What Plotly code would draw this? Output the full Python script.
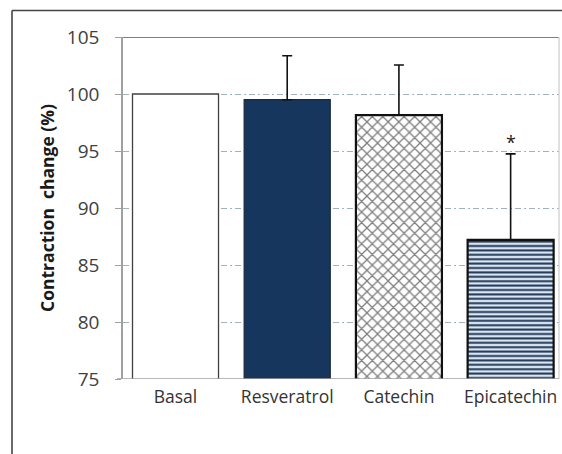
import plotly.graph_objects as go

categories = ["Basal", "Resveratrol", "Catechin", "Epicatechin"]
values = [100, 99.5, 98.15, 87.2]
errors_up = [0, 3.85, 4.4, 7.55]
y_ticks = [75, 80, 85, 90, 95, 100, 105]
significance = ["", "", "", "*"]

W, H = 562, 454
L, R, T, B = 123, 3, 37, 75
PW = W - L - R
PH = H - T - B

styles = [
    dict(color="#ffffff", line=dict(color="#404040", width=1.3)),
    dict(color="#17365d", line=dict(color="#1a2a40", width=1.3)),
    dict(color="#ffffff", line=dict(color="#111111", width=2.2),
         pattern=dict(shape="x", fgcolor="#7c7c7c", bgcolor="#ffffff", fgopacity=1,
                      size=7.5, solidity=0.3, fillmode="overlay")),
    dict(color="#dbe6f2", line=dict(color="#111111", width=2.2),
         pattern=dict(shape="-", fgcolor="#1f3656", bgcolor="#dbe6f2", fgopacity=1,
                      size=4.4, solidity=0.45, fillmode="overlay")),
]

fig = go.Figure()
for c, v, e, st in zip(categories, values, errors_up, styles):
    fig.add_trace(go.Bar(
        x=[c], y=[v], base=0, width=0.77,
        marker=st,
        error_y=dict(type="data", symmetric=False, array=[e], arrayminus=[0],
                     color="#111111", thickness=1.6, width=5, visible=e > 0),
        showlegend=False, hoverinfo="skip",
    ))

for c, v, e, s in zip(categories, values, errors_up, significance):
    if s:
        fig.add_annotation(x=c, y=v + e, text=s, showarrow=False,
                           yanchor="bottom", yshift=-2,
                           font=dict(family="Open Sans", size=18, color="#222222"))

# solid top line at 105
fig.add_shape(type="line", xref="paper", yref="y", x0=0, x1=1, y0=105, y1=105,
              line=dict(color="#555555", width=1.6))
# light right border
fig.add_shape(type="line", xref="paper", yref="y", x0=1, x1=1, y0=75, y1=105,
              line=dict(color="#cccccc", width=1.2))
# outer frame: left and top edges only
fx0 = (12 - L) / PW
fx1 = (W - L) / PW
fy1 = (PH + T - 10.5) / PH
fy0 = -B / PH
fig.add_shape(type="line", xref="paper", yref="paper", x0=fx0, x1=fx0, y0=fy0, y1=fy1,
              line=dict(color="#444444", width=1.6))
fig.add_shape(type="line", xref="paper", yref="paper", x0=fx0, x1=fx1, y0=fy1, y1=fy1,
              line=dict(color="#444444", width=1.6))
# bottom axis line at 75 extending left to tick mark start
fig.add_shape(type="line", xref="paper", yref="y", x0=-6 / PW, x1=1, y0=75, y1=75,
              line=dict(color="#a0a0a0", width=1.6))

fig.update_layout(
    width=W, height=H,
    margin=dict(l=L, r=R, t=T, b=B),
    paper_bgcolor="white", plot_bgcolor="white",
    font=dict(family="Open Sans", color="#333333"),
    xaxis=dict(
        range=[-0.47, 3.433],
        type="category", categoryorder="array", categoryarray=categories,
        showline=False, ticks="", showgrid=False,
        ticklabelstandoff=5,
        tickfont=dict(family="Open Sans", size=17.5, color="#333333"),
        fixedrange=True,
    ),
    yaxis=dict(
        range=[75, 105],
        tickvals=y_ticks,
        ticktext=[str(t) for t in y_ticks],
        showline=True, linecolor="#a0a0a0", linewidth=1.6,
        ticks="outside", ticklen=6, tickcolor="#a0a0a0", tickwidth=1.3,
        ticklabelstandoff=12,
        tickfont=dict(family="Open Sans", size=19, color="#404040"),
        showgrid=True, gridcolor="#9fb3bd", gridwidth=1.1,
        griddash="6px,3px,2px,3px",
        zeroline=False,
        title=dict(text="Contraction  change (%)", standoff=8,
                   font=dict(family="Open Sans", size=17.5, color="#1a1a1a", weight="bold")),
        fixedrange=True,
    ),
)

fig.write_html(
    "out.html",
    config={"displayModeBar": False},
    post_script="document.body.style.margin='0';document.body.style.overflow='hidden';",
)
